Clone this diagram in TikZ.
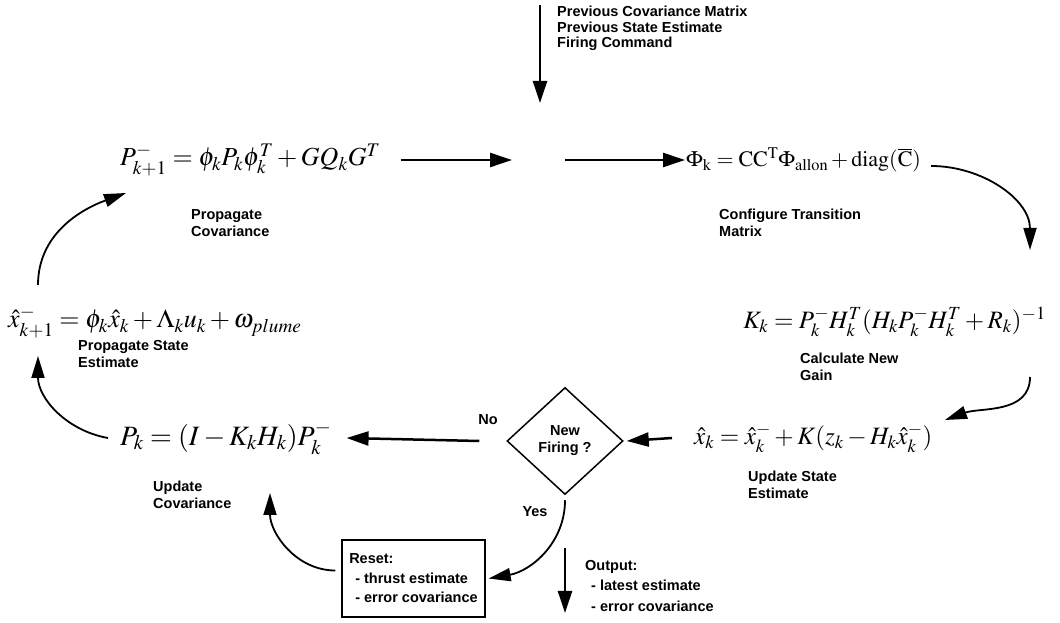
\documentclass[tikz,border=0pt]{standalone}
\usepackage{mathptmx}
\usepackage[no-math]{fontspec}
\setmainfont{Liberation Sans}
\usetikzlibrary{arrows.meta, calc, shapes.geometric, positioning}
\tikzstyle{eqn} = [inner sep=0pt, font=\fontsize{26}{30}\selectfont]
\tikzstyle{lbl} = [inner sep=0pt, align=left, anchor=north west, font=\fontsize{14.5}{17}\selectfont\bfseries]
\tikzstyle{arrow} = [line width=2.5pt, -{Triangle[length=22pt,width=14pt]}]
\tikzstyle{curve} = [line width=1.8pt, -{Triangle[length=22pt,width=13pt]}]

\begin{document}
\begin{tikzpicture}[x=1pt, y=1pt]
\useasboundingbox (0,0) rectangle (1060,623);

% equations
\node[eqn, anchor=west] (pprop) at (120,463) {$P^{-}_{k+1} = \phi_k P_k \phi_k^{T} + GQ_kG^{T}$};
\node[eqn, anchor=west, font=\fontsize{22}{26}\selectfont] (phi) at (686,463) {$\Phi_{\mathrm{k}} = \mathrm{CC}^{\mathrm{T}}\Phi_{\mathrm{allon}} + \mathrm{diag}(\overline{\mathrm{C}})$};
\node[eqn, anchor=west] (xpred) at (8,301) {$\hat{x}^{-}_{k+1} = \phi_k \hat{x}_k + \Lambda_k u_k + \omega_{plume}$};
\node[eqn, anchor=east, font=\fontsize{25}{29}\selectfont] (keq) at (1046,301) {$K_k = P^{-}_k H^{T}_k (H_k P^{-}_k H^{T}_k + R_k)^{-1}$};
\node[eqn, anchor=west, font=\fontsize{25}{29}\selectfont] (xk) at (694,185) {$\hat{x}_k = \hat{x}^{-}_k + K(z_k - H_k \hat{x}^{-}_k)$};
\node[eqn, anchor=west, font=\fontsize{28}{32}\selectfont] (pk) at (120,185) {$P_k = (I - K_k H_k)P^{-}_k$};

% decision and reset
\node[draw, line width=1.5pt, diamond, minimum width=116pt, minimum height=107pt, inner sep=0pt,
  align=center, font=\fontsize{14.5}{17}\selectfont\bfseries] (fire) at (565,182) {New\\Firing ?};
\node[draw, line width=1.3pt, minimum width=143pt, minimum height=77pt, inner sep=4pt,
  align=left, font=\fontsize{14.5}{19.5}\selectfont\bfseries] (reset) at (413.5,44.5)
  {Reset:\\\hspace{6pt}- thrust estimate\\\hspace{6pt}- error covariance};

% labels
\node[lbl] (lblpc) at (191,414) {Propagate\\Covariance};
\node[lbl] (lblcf) at (719,414) {Configure Transition\\Matrix};
\node[lbl] (lblps) at (78,283) {Propagate State\\Estimate};
\node[lbl] (lblgn) at (800,270) {Calculate New\\Gain};
\node[lbl] (lblus) at (748,152) {Update State\\Estimate};
\node[lbl] (lbluc) at (153,142) {Update\\Covariance};
\node[lbl, font=\fontsize{14.5}{15.5}\selectfont\bfseries] (lblin) at (557,617) {Previous Covariance Matrix\\Previous State Estimate\\Firing Command};
\node[lbl, font=\fontsize{14.5}{20.5}\selectfont\bfseries] (lblout) at (585,63) {Output:\\\hspace{6pt}- latest estimate\\\hspace{6pt}- error covariance};
\node[inner sep=0pt, font=\fontsize{14.5}{17}\selectfont\bfseries] (no) at (488,203) {No};
\node[inner sep=0pt, font=\fontsize{14.5}{17}\selectfont\bfseries] (yes) at (535,111) {Yes};

% free ends
\coordinate (intop) at (540,618);
\coordinate (inend) at (540,520);
\coordinate (midl) at (512,463);
\coordinate (midr) at (565,463);
\coordinate (outtop) at (565,75);
\coordinate (outend) at (565,10);

% connectors
\draw[arrow] (intop) -- (inend);
\draw[arrow] ([xshift=20pt]pprop.east) -- (midl);
\draw[arrow] (midr) -- ([xshift=-1pt]phi.west);
\draw[curve] ([xshift=10pt,yshift=-6pt]phi.east) to[out=0, in=90] ([xshift=-16pt,yshift=72pt]keq.east);
\draw[curve] ([xshift=-16pt,yshift=-55pt]keq.east) to[out=-90, in=20] ([xshift=251pt,yshift=18pt]xk.west);
\draw[arrow] ([xshift=-22pt]xk.west) -- ([xshift=3pt]fire.east);
\draw[arrow] ([xshift=-27pt]fire.west) -- ([xshift=15pt]pk.east);
\draw[curve] ([xshift=-12pt]pk.west) to[out=170, in=-90] (38,267);
\draw[curve] (38,338) to[out=90, in=200] ([xshift=6pt,yshift=-33pt]pprop.west);
\draw[curve] ([yshift=-5pt]fire.south) to[out=-90, in=10] ([xshift=3pt]reset.east);
\draw[curve] ([xshift=-6pt,yshift=8pt]reset.west) to[out=180, in=-90] (270,130);
\draw[arrow] (outtop) -- (outend);
\end{tikzpicture}
\end{document}
